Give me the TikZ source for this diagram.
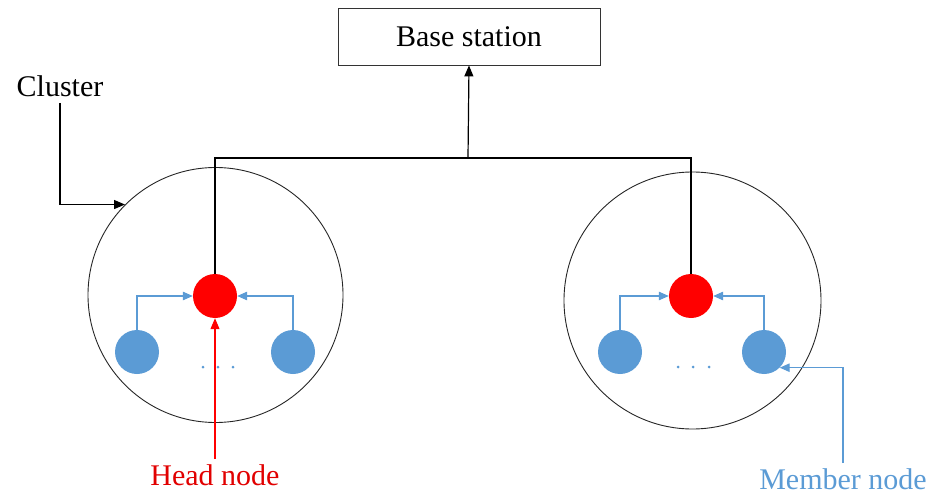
\documentclass[tikz,border=0pt]{standalone}
\usepackage{fontspec}
\setmainfont{Liberation Serif}
\usetikzlibrary{arrows.meta}
\definecolor{mblue}{RGB}{91,155,213}
\definecolor{hred}{RGB}{255,0,0}
\definecolor{tred}{RGB}{225,0,0}
\begin{document}
\begin{tikzpicture}[x=1pt,y=-1pt,
  lbl/.style={font=\fontsize{30}{34}\selectfont, inner sep=0pt},
  cluster/.style={circle, draw=black!85, line width=0.9pt, minimum size=#1, inner sep=0pt},
  head/.style={circle, fill=hred, minimum size=44pt, inner sep=0pt},
  member/.style={circle, fill=mblue, minimum size=44pt, inner sep=0pt},
  dotmark/.style={circle, fill=mblue, minimum size=3pt, inner sep=0pt},
  karr/.style={draw=black, line width=1.2pt, -{Triangle[length=11pt,width=9pt]}},
  kline/.style={draw=black, line width=1.2pt},
  barr/.style={draw=mblue, line width=1.1pt, -{Triangle[length=10pt,width=8.5pt]}},
  rarr/.style={draw=red, line width=1.1pt, -{Triangle[length=11pt,width=9pt]}}]
\useasboundingbox (0,0) rectangle (935,495);
% base station
\node[draw=black!80, line width=0.9pt, minimum width=262pt, minimum height=57pt, inner sep=0pt, font=\fontsize{30}{34}\selectfont] (bs) at (469,36.5) {Base station};
% clusters
\node[cluster=255pt] (c1) at (215.5,295) {};
\node[cluster=257pt] (c2) at (692.5,300.5) {};
% heads
\node[head] (h1) at (215,296) {};
\node[head] (h2) at (691,296) {};
% members
\node[member] (m1) at (137,352) {};
\node[member] (m2) at (293,352) {};
\node[member] (m3) at (620,352) {};
\node[member] (m4) at (764,352) {};
% dots
\node[dotmark] (d1) at (203,367) {};
\node[dotmark] (d2) at (218,367) {};
\node[dotmark] (d3) at (233,367) {};
\node[dotmark] (d4) at (678,367) {};
\node[dotmark] (d5) at (693,367) {};
\node[dotmark] (d6) at (709,367) {};
% labels
\node[lbl] (cl) at (60,86) {Cluster};
\node[lbl, text=tred] (hl) at (215,475) {Head node};
\node[lbl, text=mblue] (ml) at (843,479) {Member node};
% connectors
\coordinate (join) at (468,158);
\draw[kline] (h1.north) |- (join) -| (h2.north);
\draw[karr] (join) -- (bs.south);
\draw[karr] ([yshift=-6pt]cl.south) |- (c1.135);
\draw[barr] (m1.north) |- (h1.west);
\draw[barr] (m2.north) |- (h1.east);
\draw[barr] (m3.north) |- (h2.west);
\draw[barr] (m4.north) |- (h2.east);
\draw[rarr] ([yshift=5pt]hl.north) -- (h1.south);
\draw[barr] ([yshift=5pt]ml.north) |- (m4.-45);
\end{tikzpicture}
\end{document}
